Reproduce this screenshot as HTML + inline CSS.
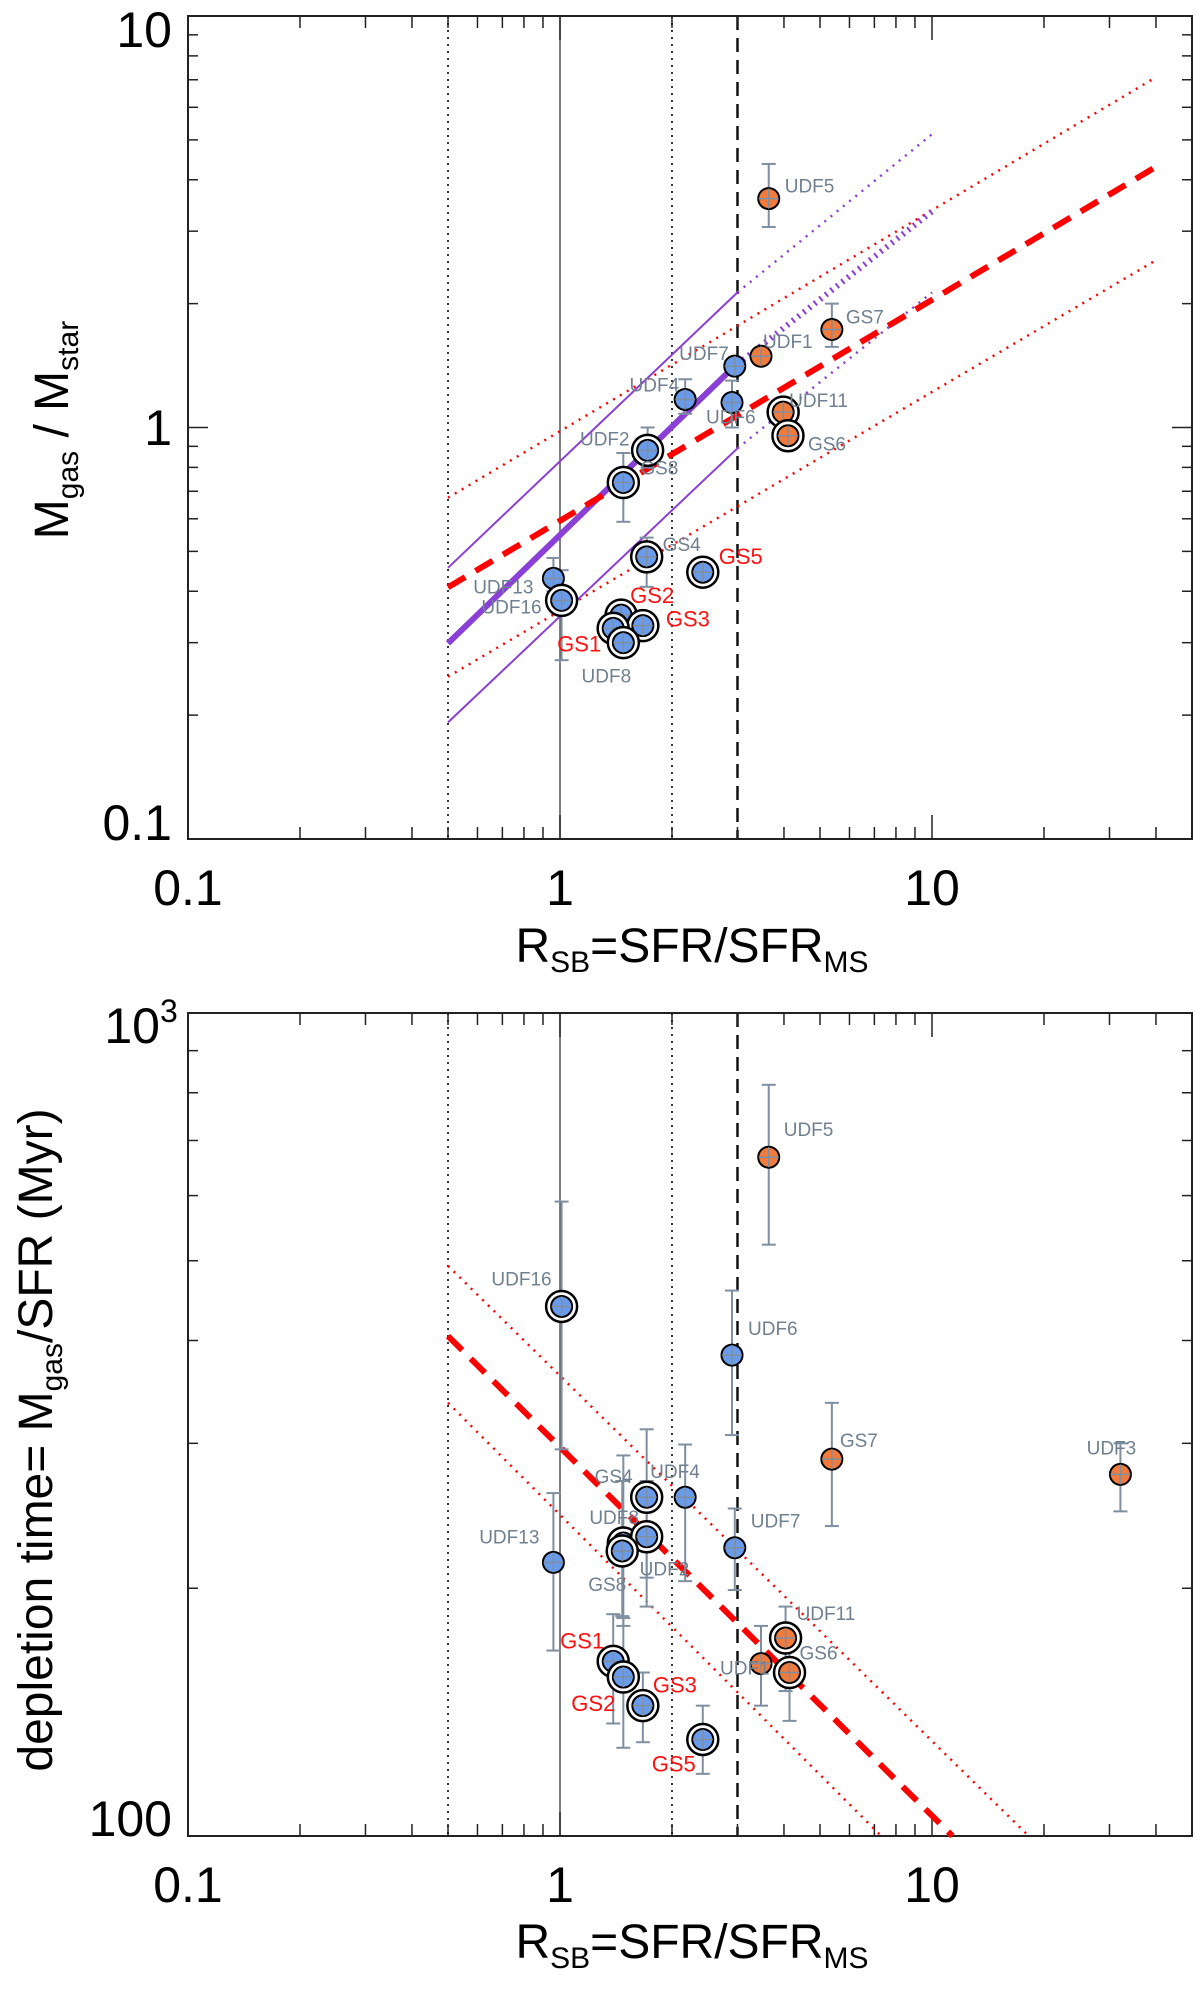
<!DOCTYPE html>
<html><head><meta charset="utf-8">
<style>
html,body{margin:0;padding:0;background:#fff;}
svg{display:block;font-family:"Liberation Sans",Arial,sans-serif;}
</style></head>
<body>
<svg id="fig" width="1200" height="1998" viewBox="0 0 1200 1998" xmlns="http://www.w3.org/2000/svg">
<g id="top"></g>
<g id="bot"></g>
<text x="692" y="962" font-size="48" text-anchor="middle">R<tspan font-size="30" dy="10">SB</tspan><tspan dy="-10">=SFR/SFR</tspan><tspan font-size="30" dy="10">MS</tspan></text>
<text x="692" y="1958" font-size="48" text-anchor="middle">R<tspan font-size="30" dy="10">SB</tspan><tspan dy="-10">=SFR/SFR</tspan><tspan font-size="30" dy="10">MS</tspan></text>
<text transform="translate(68,430) rotate(-90)" font-size="48" text-anchor="middle">M<tspan font-size="30" dy="10">gas</tspan><tspan dy="-10"> / M</tspan><tspan font-size="30" dy="10">star</tspan></text>
<text transform="translate(52,1440) rotate(-90)" font-size="48" text-anchor="middle">depletion time= M<tspan font-size="30" dy="10">gas</tspan><tspan dy="-10">/SFR (Myr)</tspan></text>
</svg>
<script>
// ---- shared x-axis ----
const xTickValues = [0.1, 1, 10];
const xTickLabels = ["0.1", "1", "10"];
const verticalRefX = [0.5, 1, 2, 3];

// ---- top panel data (Mgas/Mstar) ----
const topNames = ["UDF5","GS7","UDF1","UDF7","UDF4","UDF6","UDF11","GS6","UDF2","GS8","GS4","GS5","UDF13","UDF16","GS2","GS3","GS1","UDF8"];
const topX     = [3.64, 5.38, 3.47, 2.95, 2.17, 2.9, 3.98, 4.1, 1.72, 1.48, 1.71, 2.42, 0.96, 1.01, 1.46, 1.67, 1.39, 1.48];
const topY     = [3.6, 1.73, 1.49, 1.41, 1.17, 1.15, 1.09, 0.955, 0.88, 0.735, 0.485, 0.445, 0.43, 0.38, 0.35, 0.33, 0.325, 0.30];
const topErrLo = [3.07, 1.57, 1.49, 1.41, 1.08, 1.0, 1.09, 0.955, 0.80, 0.59, 0.41, 0.445, 0.40, 0.272, 0.35, 0.33, 0.325, 0.30];
const topErrHi = [4.37, 2.0, 1.49, 1.41, 1.31, 1.3, 1.09, 0.955, 1.0, 0.867, 0.54, 0.445, 0.482, 0.45, 0.35, 0.33, 0.325, 0.30];
const topOrange= [1,1,1,0,0,0,1,1,0,0,0,0,0,0,0,0,0,0];
const topRing  = [0,0,0,0,0,0,1,1,1,1,1,1,0,1,1,1,1,1];
const topRedLbl= [0,0,0,0,0,0,0,0,0,0,0,1,0,0,1,1,1,0];
const topTickLabels = ["10","1","0.1"];
const topTickValues = [10, 1, 0.1];

// ---- bottom panel data (depletion time, Myr) ----
const botNames = ["UDF5","UDF16","UDF6","GS7","UDF3","GS4","UDF4","UDF8","UDF2","GS8","UDF7","UDF13","UDF11","GS6","UDF1","GS1","GS2","GS3","GS5"];
const botX     = [3.64, 1.01, 2.9, 5.38, 32.1, 1.71, 2.17, 1.48, 1.71, 1.47, 2.95, 0.96, 4.04, 4.14, 3.47, 1.39, 1.48, 1.67, 2.42];
const botY     = [668, 440, 384, 287, 275, 258, 258, 227, 231, 222, 224, 215, 174, 158, 162, 163, 156, 144, 131];
const botErrLo = [523, 295, 307, 238, 248, 206, 204, 180, 190, 185, 199, 168, 150, 138, 144, 137, 128, 130, 119];
const botErrHi = [818, 590, 460, 336, 300, 312, 299, 290, 270, 270, 250, 261, 190, 180, 180, 186, 184, 158, 144];
const botOrange= [1,0,0,1,1,0,0,0,0,0,0,0,1,1,1,0,0,0,0];
const botRing  = [0,1,0,0,0,1,0,1,1,1,0,0,1,1,0,1,1,1,1];
const botRedLbl= [0,0,0,0,0,0,0,0,0,0,0,0,0,0,0,1,1,1,1];
const botTickValues = [1000, 100];

// ---- fit lines [x0,y0,x1,y1] ----
const topRedDash  = [0.5, 0.409, 40, 4.3];
const topRedUp    = [0.5, 0.675, 40, 7.1];
const topRedLo    = [0.5, 0.248, 40, 2.55];
const topPurMain  = [0.5, 0.299, 2.9, 1.39, 10, 3.35];
const topPurUp    = [0.5, 0.456, 3, 2.13, 10, 5.16];
const topPurLo    = [0.5, 0.192, 3, 0.89, 10, 2.13];
const botRedDash  = [0.5, 405, 11.35, 100];
const botRedUp    = [0.5, 493, 18.2, 100];
const botRedLo    = [0.5, 336, 7.3, 100];

// ---- geometry ----
const L = 188, R = 1192;
const X = v => L + 372 * (Math.log10(v) + 1);
const topT = 16, topB = 839;
const Yt = v => topT + (1 - Math.log10(v)) * 411.5;
const botT = 1013, botB = 1836;
const Yb = v => botT + (3 - Math.log10(v)) * 823;

const NS = "http://www.w3.org/2000/svg";
function mk(parent, tag, attrs) {
  const e = document.createElementNS(NS, tag);
  for (const k in attrs) e.setAttribute(k, attrs[k]);
  parent.appendChild(e);
  return e;
}

const labelOffTop = {UDF5:[16,-13,"start"],GS7:[14,-13,"start"],UDF1:[2,-15,"start"],UDF7:[-6,-13,"end"],UDF4:[-6,-15,"end"],UDF6:[-26,14,"start"],UDF11:[6,-12,"start"],GS6:[20,8,"start"],UDF2:[-18,-12,"end"],GS8:[17,-15,"start"],GS4:[16,-13,"start"],GS5:[16,-15,"start"],UDF13:[-20,8,"end"],UDF16:[-20,6,"end"],GS2:[9,-19,"start"],GS3:[23,-6,"start"],GS1:[-12,16,"end"],UDF8:[-17,33,"middle"]};
const labelOffBot = {UDF5:[15,-28,"start"],UDF16:[-10,-28,"end"],UDF6:[16,-27,"start"],GS7:[8,-19,"start"],UDF3:[-9,-27,"middle"],GS4:[-14,-21,"end"],UDF4:[-35,-26,"start"],UDF8:[-34,-26,"start"],UDF2:[-7,32,"start"],GS8:[4,33,"end"],UDF7:[16,-27,"start"],UDF13:[-14,-26,"end"],UDF11:[11,-25,"start"],GS6:[10,-20,"start"],UDF1:[-41,4,"start"],GS1:[-9,-20,"end"],GS2:[-8,27,"end"],GS3:[10,-20,"start"],GS5:[-7,25,"end"]};

function line(g, x1, y1, x2, y2, st, name) {
  const l = mk(g, "line", Object.assign({x1:x1, y1:y1, x2:x2, y2:y2}, st));
  
  
  return l;
}

function axes(g, T, B, Y, yMinorVals, yMajorVals, prefix) {
  // vertical reference lines
  const vst = [
    {stroke:"#333", "stroke-width":2, "stroke-dasharray":"2 5"},
    {stroke:"#555", "stroke-width":1.5},
    {stroke:"#333", "stroke-width":2, "stroke-dasharray":"2 5"},
    {stroke:"#111", "stroke-width":2.5, "stroke-dasharray":"14 8"}
  ];
  verticalRefX.forEach((v, i) => line(g, X(v), T, X(v), B, vst[i], prefix + "-ref-line-x" + v));
  // frame
  const f = mk(g, "rect", {x:L, y:T, width:R-L, height:B-T, fill:"none", stroke:"#222", "stroke-width":2});
  
  
  // x ticks
  for (let d = -1; d <= 1; d++) {
    for (let m = 1; m <= 9; m++) {
      const v = m * Math.pow(10, d);
      if (v > 50) continue;
      const len = m === 1 ? 24 : 12;
      line(g, X(v), B, X(v), B - len, {stroke:"#222","stroke-width":1.5}, prefix + "-x-tick");
      line(g, X(v), T, X(v), T + len, {stroke:"#222","stroke-width":1.5}, prefix + "-x-tick-top");
    }
  }
  yMinorVals.forEach(v => {
    line(g, L, Y(v), L + 10, Y(v), {stroke:"#222","stroke-width":1.5}, prefix + "-y-tick");
    line(g, R, Y(v), R - 10, Y(v), {stroke:"#222","stroke-width":1.5}, prefix + "-y-tick-right");
  });
  yMajorVals.forEach(v => {
    line(g, L, Y(v), L + 20, Y(v), {stroke:"#222","stroke-width":1.5}, prefix + "-y-major-tick");
    line(g, R, Y(v), R - 20, Y(v), {stroke:"#222","stroke-width":1.5}, prefix + "-y-major-tick-right");
  });
  xTickValues.forEach((v, i) => {
    const t = mk(g, "text", {x:X(v), y:B + 66, "font-size":50, "text-anchor":"middle"});
    t.textContent = xTickLabels[i];
    
    
  });
}

function seg(g, pts, Y, st, name) {
  const p = [];
  for (let i = 0; i < pts.length; i += 2) p.push(X(pts[i]).toFixed(1) + "," + Y(pts[i+1]).toFixed(1));
  const pl = mk(g, "polyline", Object.assign({points:p.join(" "), fill:"none"}, st));
  
  
}

function points(g, names, xs, ys, lo, hi, orange, ring, red, Y, offs, prefix) {
  const n = names.length;
  for (let i = 0; i < n; i++) {
    const x = X(xs[i]), y1 = Y(lo[i]), y2 = Y(hi[i]);
    if (Math.abs(y1 - y2) > 2) {
      line(g, x, y1, x, y2, {stroke:"#7f8fa0","stroke-width":2}, prefix + "-error-bar-" + names[i]);
      line(g, x-7, y1, x+7, y1, {stroke:"#7f8fa0","stroke-width":2}, prefix + "-error-cap-" + names[i]);
      line(g, x-7, y2, x+7, y2, {stroke:"#7f8fa0","stroke-width":2}, prefix + "-error-cap-" + names[i]);
    }
  }
  for (let i = 0; i < n; i++) {
    const x = X(xs[i]), y = Y(ys[i]);
    const grp = mk(g, "g", {});
    
    
    if (ring[i]) mk(grp, "circle", {cx:x, cy:y, r:15.5, fill:"#fff", stroke:"#000", "stroke-width":2.5});
    mk(grp, "circle", {cx:x, cy:y, r:10.5, fill: orange[i] ? "#f07b3c" : "#6a9bea", stroke:"#000", "stroke-width":2});
    mk(grp, "line", {x1:x-10, y1:y, x2:x+10, y2:y, stroke:"#7f8fa0", "stroke-width":1.5});
    mk(grp, "line", {x1:x, y1:y-10, x2:x, y2:y+10, stroke:"#7f8fa0", "stroke-width":1.5});
  }
  for (let i = 0; i < n; i++) {
    const o = offs[names[i]];
    const t = mk(g, "text", {x:X(xs[i]) + o[0], y:Y(ys[i]) + o[1] + 7, "font-size": red[i] ? 22 : 19, "text-anchor":o[2], fill: red[i] ? "#ff1010" : "#708090"});
    t.textContent = names[i];
    
    
  }
}

// ---- TOP PANEL ----
const gt = document.getElementById("top");
const topMinor = [], topMajor = [1];
[0.1, 1].forEach(d => { for (let m = 2; m <= 9; m++) topMinor.push(m * d); });
axes(gt, topT, topB, Yt, topMinor, topMajor, "top");
const tyPos = [47, 445, 840];
topTickValues.forEach((v, i) => {
  const t = mk(gt, "text", {x:172, y:tyPos[i], "font-size":50, "text-anchor":"end"});
  t.textContent = topTickLabels[i];
  
  
});
seg(gt, topRedUp, Yt, {stroke:"#ff0000","stroke-width":2.5,"stroke-dasharray":"2 6"}, "top-red-dotted-upper");
seg(gt, topRedLo, Yt, {stroke:"#ff0000","stroke-width":2.5,"stroke-dasharray":"2 6"}, "top-red-dotted-lower");
seg(gt, topPurUp.slice(0,4), Yt, {stroke:"#8a3fd6","stroke-width":2}, "top-purple-upper");
seg(gt, topPurUp.slice(2), Yt, {stroke:"#8a3fd6","stroke-width":2.5,"stroke-dasharray":"2 6"}, "top-purple-upper-extension");
seg(gt, topPurLo.slice(0,4), Yt, {stroke:"#8a3fd6","stroke-width":2}, "top-purple-lower");
seg(gt, topPurLo.slice(2), Yt, {stroke:"#8a3fd6","stroke-width":2.5,"stroke-dasharray":"2 6"}, "top-purple-lower-extension");
seg(gt, topPurMain.slice(0,4), Yt, {stroke:"#8a3fd6","stroke-width":6}, "top-purple-fit");
seg(gt, topPurMain.slice(2), Yt, {stroke:"#8a3fd6","stroke-width":6,"stroke-dasharray":"2 5"}, "top-purple-fit-extension");
seg(gt, topRedDash, Yt, {stroke:"#ff0000","stroke-width":6,"stroke-dasharray":"20 12"}, "top-red-dashed-fit");
points(gt, topNames, topX, topY, topErrLo, topErrHi, topOrange, topRing, topRedLbl, Yt, labelOffTop, "top");

// ---- BOTTOM PANEL ----
const gb = document.getElementById("bot");
const botMinor = [];
for (let m = 2; m <= 9; m++) botMinor.push(m * 100);
axes(gb, botT, botB, Yb, botMinor, [], "bottom");
const t3 = mk(gb, "text", {x:160, y:1043, "font-size":50, "text-anchor":"end"});
t3.textContent = "10";


const s3 = mk(gb, "text", {x:160, y:1022, "font-size":32, "text-anchor":"start"});
s3.textContent = "3";


const t2 = mk(gb, "text", {x:172, y:1836, "font-size":50, "text-anchor":"end"});
t2.textContent = "100";


seg(gb, botRedUp, Yb, {stroke:"#ff0000","stroke-width":2.5,"stroke-dasharray":"2 6"}, "bottom-red-dotted-upper");
seg(gb, botRedLo, Yb, {stroke:"#ff0000","stroke-width":2.5,"stroke-dasharray":"2 6"}, "bottom-red-dotted-lower");
seg(gb, botRedDash, Yb, {stroke:"#ff0000","stroke-width":6,"stroke-dasharray":"20 12"}, "bottom-red-dashed-fit");
points(gb, botNames, botX, botY, botErrLo, botErrHi, botOrange, botRing, botRedLbl, Yb, labelOffBot, "bottom");
</script>
</body></html>
